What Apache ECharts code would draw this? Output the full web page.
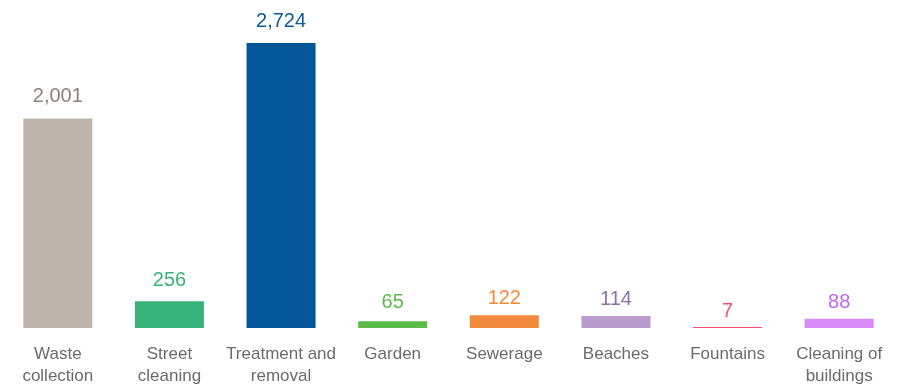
<!DOCTYPE html>
<html>
<head>
<meta charset="utf-8">
<script src="https://cdn.jsdelivr.net/npm/echarts@6/dist/echarts.min.js"></script>
<style>
  html, body { margin: 0; padding: 0; background: #fff; }
  #main { width: 901px; height: 387px; }
</style>
</head>
<body>
<div id="main"></div>
<script>
// categories and values
const categories = ['Waste\ncollection', 'Street\ncleaning', 'Treatment and\nremoval', 'Garden',
    'Sewerage', 'Beaches', 'Fountains', 'Cleaning of\nbuildings'];
const values = [2001, 256, 2724, 65, 122, 114, 7, 88];
const barColors = ['#bdb5ae', '#36b37a', '#035698', '#5bbb4a', '#f28a3e', '#b89ccb', '#f4516c', '#d98bf7'];
const labelColors = ['#8c8279', '#36b37a', '#0b5b9c', '#5bbb4a', '#f28a3e', '#8f6fa8', '#f4516c', '#c065f0'];
// gap between bar top and value label
const labelGaps = [12, 11, 11, 9, 7, 7, 6, 6];

const chart = echarts.init(document.getElementById('main'));

const option = {
    animation: false,
    grid: {left: 2, right: 6, top: 14, bottom: 58, containLabel: false},
    xAxis: {
        type: 'category',
        data: categories,
        axisLine: {show: false},
        axisTick: {show: false},
        axisLabel: {
            color: '#6b6b6b',
            fontFamily: 'Liberation Sans, Arial, sans-serif',
            fontSize: 17,
            lineHeight: 22,
            margin: 15,
            interval: 0
        }
    },
    yAxis: {
        type: 'value',
        min: 0,
        max: 3000,
        show: false,
        splitLine: {show: false}
    },
    series: [{
        type: 'bar',
        barWidth: 69,
        barMinHeight: 1,
        data: values.map((v, i) => ({
            value: v,
            itemStyle: {color: barColors[i]},
            label: {color: labelColors[i], distance: labelGaps[i]}
        })),
        label: {
            show: true,
            position: 'top',
            fontFamily: 'Liberation Sans, Arial, sans-serif',
            fontSize: 20,
            formatter: p => p.value.toLocaleString('en-US')
        }
    }]
};

chart.setOption(option);
</script>
</body>
</html>
